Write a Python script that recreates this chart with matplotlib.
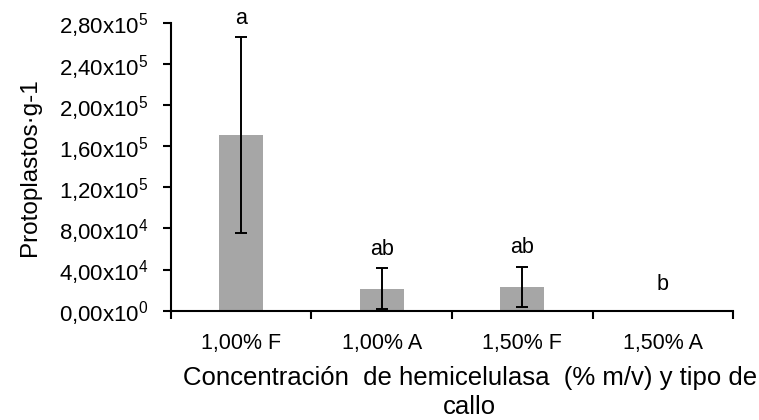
import matplotlib
matplotlib.use("Agg")
import matplotlib.pyplot as plt
import numpy as np

plt.rcParams['font.family'] = ['Liberation Sans', 'DejaVu Sans']
plt.rcParams['mathtext.fontset'] = 'custom'
plt.rcParams['mathtext.rm'] = 'Liberation Sans'
plt.rcParams['mathtext.it'] = 'Liberation Sans'

# data
categories = ["1,00% F", "1,00% A", "1,50% F", "1,50% A"]
values = [1.71e5, 2.15e4, 2.35e4, 0.0]
errors = [9.5e4, 2.0e4, 1.95e4, 0.0]
letters = ["a", "ab", "ab", "b"]
yticks = [0, 4e4, 8e4, 1.2e5, 1.6e5, 2.0e5, 2.4e5, 2.8e5]
ytick_labels = [r"0,00x10$^{0}$", r"4,00x10$^{4}$", r"8,00x10$^{4}$",
                r"1,20x10$^{5}$", r"1,60x10$^{5}$", r"2,00x10$^{5}$",
                r"2,40x10$^{5}$", r"2,80x10$^{5}$"]

fig = plt.figure(figsize=(7.59, 4.2), dpi=100)
ax = fig.add_axes([0.225, 0.26, 0.741, 0.686])

x = np.arange(len(categories))
ax.bar(x, values, width=0.314, color="#a6a6a6", zorder=2)
ax.errorbar(x[:3], values[:3], yerr=errors[:3], fmt="none", ecolor="black",
            elinewidth=1.4, capsize=4.5, capthick=1.4, zorder=3)

# significance letters over each bar
for xi, v, e, lab in zip(x, values, errors, letters):
    top = max(v + e, 0.75e4)
    ax.text(xi, top + 0.8e4, lab, ha="center", va="bottom", fontsize=15.5)

ax.set_xlim(-0.5, len(categories) - 0.5)
ax.set_ylim(0, 2.8e5)
ax.set_yticks(yticks)
ax.set_yticklabels(ytick_labels, fontsize=16)
ax.set_xticks(x)
ax.set_xticklabels(categories, fontsize=15.5)
ax.tick_params(axis="x", length=0, pad=16)
ax.set_xticks(np.arange(-0.5, len(categories)), minor=True)
ax.tick_params(axis="x", which="minor", length=6, width=1.5, direction="out")
ax.tick_params(axis="y", length=6, width=1.5, direction="out", pad=10)

for s in ["top", "right"]:
    ax.spines[s].set_visible(False)
for s in ["left", "bottom"]:
    ax.spines[s].set_linewidth(1.5)

fig.text(0.04, 0.601, "Protoplastos·g-1", rotation=90, fontsize=17.5,
         ha="center", va="center")
fig.text(0.619, 0.1, "Concentración  de hemicelulasa  (% m/v) y tipo de",
         fontsize=18.5, ha="center", va="center")
fig.text(0.619, 0.031, "callo", fontsize=18.5, ha="center", va="center")

fig.savefig("out.png", dpi=100)
